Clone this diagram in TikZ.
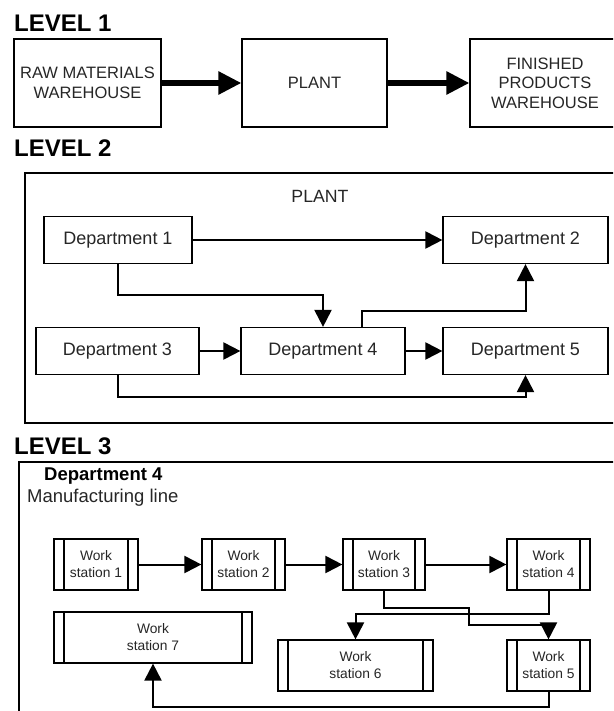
\documentclass[tikz,border=0pt]{standalone}
\usepackage{fontspec}
\setmainfont{Liberation Sans}
\usetikzlibrary{arrows.meta}

\begin{document}
\begin{tikzpicture}[x=1pt,y=1pt]
\tikzstyle{every node}+=[inner sep=0pt]
\tikzstyle{level}=[anchor=base west, font=\fontsize{24}{24}\selectfont\bfseries]
\tikzstyle{store}=[draw=black, line width=1.2pt, minimum height=88pt, align=center, text=black!85, font=\fontsize{16.5}{19.5}\selectfont]
\tikzstyle{dept}=[draw=black, line width=1.2pt, minimum height=47pt, text=black!85, font=\fontsize{18}{18}\selectfont]
\tikzstyle{station}=[draw=black, line width=1.2pt, minimum height=51pt, align=center, text=black!85, font=\fontsize{13.8}{17}\selectfont,
  path picture={\draw [line width=1.2pt] ([xshift=10pt]path picture bounding box.north west) -- ([xshift=10pt]path picture bounding box.south west);
    \draw [line width=1.2pt] ([xshift=-10pt]path picture bounding box.north east) -- ([xshift=-10pt]path picture bounding box.south east);}]
\tikzstyle{bigflow}=[line width=5.5pt, -{Triangle[length=23pt,width=22pt]}]
\tikzstyle{flow}=[line width=2pt, -{Triangle[length=17pt,width=17pt]}]
\useasboundingbox (0,0) rectangle (613,-711);
\clip (0,0) rectangle (613,-711);
% level 1
\node [level] (lone) at (14,-32) {LEVEL 1};
\node [store, minimum width=147pt] (raw) at (87.5,-83) {RAW MATERIALS\\WAREHOUSE};
\node [store, minimum width=145pt] (plant) at (314.5,-83) {PLANT};
\node [store, minimum width=150pt] (fin) at (545,-83) {FINISHED\\PRODUCTS\\WAREHOUSE};
\draw [bigflow] (raw) -- (plant);
\draw [bigflow] (plant) -- (fin);
% level 2
\node [level] (ltwo) at (14,-157) {LEVEL 2};
\draw [black, line width=1.2pt] (25,-173) rectangle (625,-423);
\node [anchor=base, text=black!85, font=\fontsize{17.7}{17.7}\selectfont] (plantname) at (320,-203) {PLANT};
\node [dept, minimum width=148pt] (d1) at (118,-240) {Department 1};
\node [dept, minimum width=165pt] (d2) at (525.5,-240) {Department 2};
\node [dept, minimum width=163pt] (d3) at (117.5,-351) {Department 3};
\node [dept, minimum width=164pt] (d4) at (323,-351) {Department 4};
\node [dept, minimum width=165pt] (d5) at (525.5,-351) {Department 5};
\draw [flow] (d1) -- (d2);
\draw [flow] (d3) -- (d4);
\draw [flow] (d4) -- (d5);
\draw [flow] (d1.south) -- ++(0,-31) -| (d4.north);
\draw [flow] ([xshift=39pt]d4.north) -- ++(0,16) -| (d2.south);
\draw [flow] (d3.south) -- ++(0,-22) -| (d5.south);
% level 3
\node [level] (lthree) at (14,-454) {LEVEL 3};
\draw [black, line width=1.2pt] (19,-462) rectangle (625,-725);
\node [anchor=base west, font=\fontsize{18.5}{18.5}\selectfont\bfseries] (deptname) at (44,-480) {Department 4};
\node [anchor=base west, text=black!85, font=\fontsize{18.5}{18.5}\selectfont] (linename) at (27,-502) {Manufacturing line};
\node [station, minimum width=84pt] (ws1) at (96,-564.5) {Work\\station 1};
\node [station, minimum width=83pt] (ws2) at (243.5,-564.5) {Work\\station 2};
\node [station, minimum width=82pt] (ws3) at (384,-564.5) {Work\\station 3};
\node [station, minimum width=83pt] (ws4) at (548.5,-564.5) {Work\\station 4};
\node [station, minimum width=198pt] (ws7) at (153,-637.5) {Work\\station 7};
\node [station, minimum width=155pt] (ws6) at (355.5,-665.5) {Work\\station 6};
\node [station, minimum width=83pt] (ws5) at (548.5,-665.5) {Work\\station 5};
\draw [flow] (ws1) -- (ws2);
\draw [flow] (ws2) -- (ws3);
\draw [flow] (ws3) -- (ws4);
\draw [flow] (ws3.south) -- ++(0,-17) -- ++(85,0) -- ++(0,-17) -| (ws5.north);
\draw [flow] (ws4.south) -- ++(0,-23) -| (ws6.north);
\draw [flow] (ws5.south) -- ++(0,-15) -| (ws7.south);
\end{tikzpicture}
\end{document}
